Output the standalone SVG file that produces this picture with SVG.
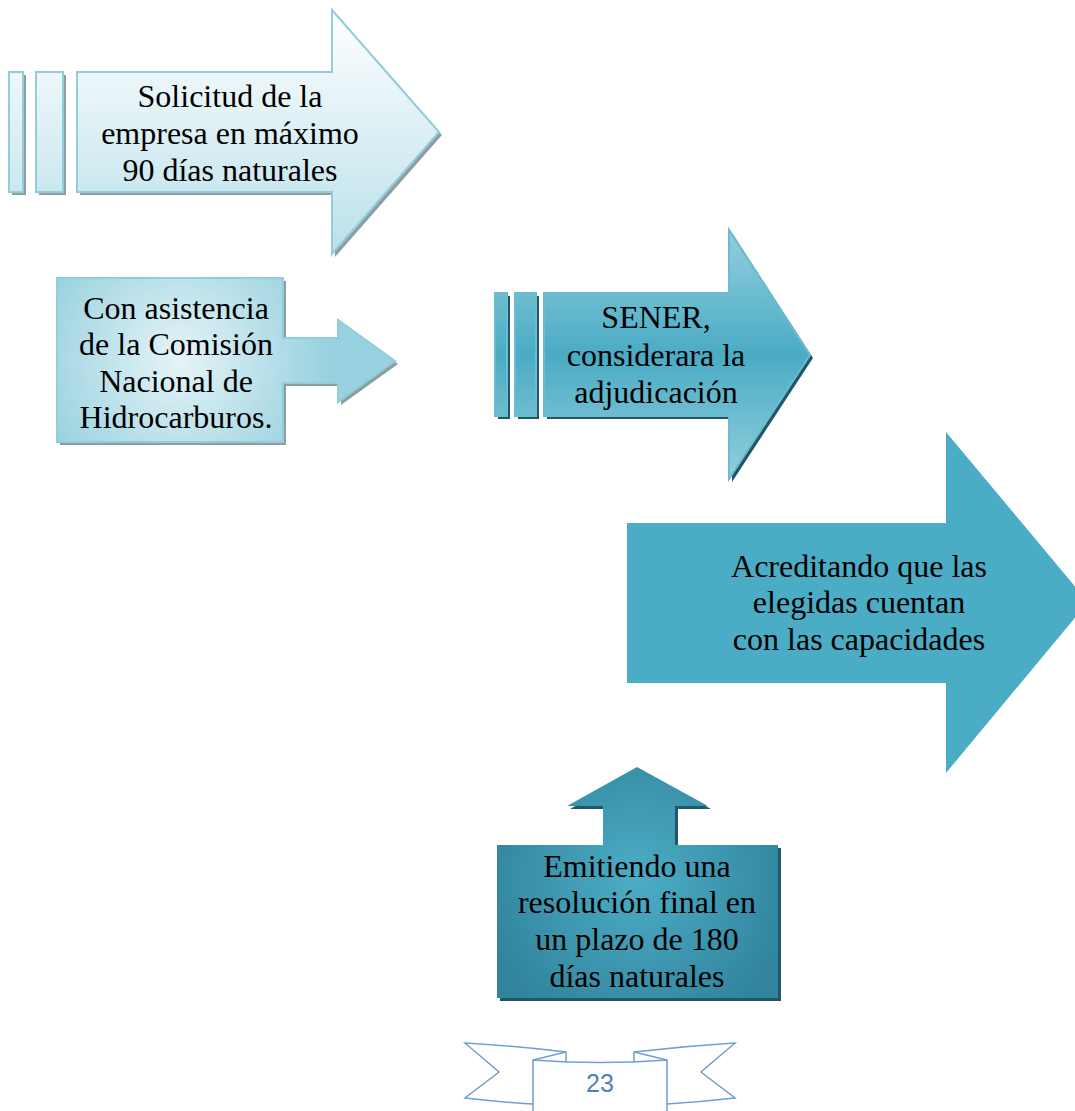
<svg xmlns="http://www.w3.org/2000/svg" width="1075" height="1111" viewBox="0 0 1075 1111">
<defs>
<linearGradient id="g1" gradientUnits="userSpaceOnUse" x1="0" y1="10" x2="0" y2="256">
<stop offset="0" stop-color="#ffffff"/><stop offset="1" stop-color="#b9e0ea"/>
</linearGradient>
<radialGradient id="g2" gradientUnits="userSpaceOnUse" cx="180" cy="360" r="150">
<stop offset="0" stop-color="#e6f4f8"/><stop offset="1" stop-color="#98d1df"/>
</radialGradient>
<linearGradient id="g3" gradientUnits="userSpaceOnUse" x1="0" y1="230" x2="0" y2="480">
<stop offset="0" stop-color="#93cfdd"/><stop offset="0.5" stop-color="#4aabc5"/><stop offset="1" stop-color="#93cfdd"/>
</linearGradient>
<radialGradient id="g5" gradientUnits="userSpaceOnUse" cx="637" cy="880" r="160">
<stop offset="0" stop-color="#4cadc7"/><stop offset="1" stop-color="#31849b"/>
</radialGradient>
<style>
.t{font-family:"Liberation Serif","Times New Roman",serif;font-size:32px;fill:#000;text-anchor:middle}
.s1{fill:#8d9ea3}
.s3{fill:#215868}
</style>
</defs>
<g id="node-solicitud">
<g transform="translate(3,3)" class="s1">
<rect x="9" y="72" width="14" height="120"/><rect x="36" y="72" width="27" height="120"/>
<path d="M77,72 L332,72 L332,10 L439,132 L332,254 L332,192 L77,192 Z"/>
</g>
<g fill="url(#g1)" stroke="#92cddc" stroke-width="2">
<rect x="9" y="72" width="14" height="120"/><rect x="36" y="72" width="27" height="120"/>
<path d="M77,72 L332,72 L332,10 L439,132 L332,254 L332,192 L77,192 Z"/>
</g>
<text class="t" x="230" y="107">Solicitud de la</text>
<text class="t" x="230" y="144">empresa en máximo</text>
<text class="t" x="230" y="181">90 días naturales</text>
</g>
<g id="node-asistencia">
<path class="s1" transform="translate(3,3)" d="M57,278 L283,278 L283,338 L338,338 L338,320 L395,361 L338,402 L338,383 L283,383 L283,442 L57,442 Z"/>
<path fill="url(#g2)" stroke="#92cddc" stroke-width="2" d="M57,278 L283,278 L283,338 L338,338 L338,320 L395,361 L338,402 L338,383 L283,383 L283,442 L57,442 Z"/>
<text class="t" x="176" y="319">Con asistencia</text>
<text class="t" x="176" y="355">de la Comisión</text>
<text class="t" x="176" y="392">Nacional de</text>
<text class="t" x="176" y="428">Hidrocarburos.</text>
</g>
<g id="node-sener">
<g transform="translate(3,3)" class="s3">
<rect x="495" y="293" width="12" height="123"/><rect x="515" y="293" width="21" height="123"/>
<path d="M544,293 L729,293 L729,230 L810,355 L729,479 L729,416 L544,416 Z"/>
</g>
<g fill="url(#g3)" stroke="#6bbcd0" stroke-width="2">
<rect x="495" y="293" width="12" height="123"/><rect x="515" y="293" width="21" height="123"/>
<path d="M544,293 L729,293 L729,230 L810,355 L729,479 L729,416 L544,416 Z"/>
</g>
<text class="t" x="656" y="328">SENER,</text>
<text class="t" x="656" y="366">considerara la</text>
<text class="t" x="656" y="403">adjudicación</text>
</g>
<g id="node-acreditando">
<path fill="#4bacc6" d="M627,523 L946,523 L946,432 L1088,602 L946,773 L946,683 L627,683 Z"/>
<text class="t" x="859" y="577">Acreditando que las</text>
<text class="t" x="859" y="613">elegidas cuentan</text>
<text class="t" x="859" y="650">con las capacidades</text>
</g>
<g id="node-emitiendo">
<path class="s3" transform="translate(3,3)" d="M497,845 L603,845 L603,806 L567,806 L637,767 L708,806 L675,806 L675,845 L778,845 L778,998 L497,998 Z"/>
<path fill="url(#g5)" d="M497,845 L603,845 L603,806 L567,806 L637,767 L708,806 L675,806 L675,845 L778,845 L778,998 L497,998 Z"/>
<text class="t" x="637" y="877">Emitiendo una</text>
<text class="t" x="637" y="913">resolución final en</text>
<text class="t" x="637" y="950">un plazo de 180</text>
<text class="t" x="637" y="987">días naturales</text>
</g>
<g id="connectors"></g>
<g id="page-number" fill="#ffffff" stroke="#6f9fd8" stroke-width="1.5">
<path d="M533,1104 Q500,1102 465,1098 L499,1072 L465,1043 Q515,1046 566,1052 L566,1062"/>
<path d="M533,1060 L566,1052"/>
<path d="M667,1104 Q700,1102 735,1098 L701,1072 L735,1043 Q685,1046 634,1052 L634,1062"/>
<path d="M667,1060 L634,1052"/>
<path d="M533,1112 L533,1060 Q600,1065 667,1060 L667,1112"/>
<text x="600" y="1092" font-family="'Liberation Sans',Arial,sans-serif" font-size="25" fill="#4f81bd" stroke="none" text-anchor="middle">23</text>
</g>
</svg>
